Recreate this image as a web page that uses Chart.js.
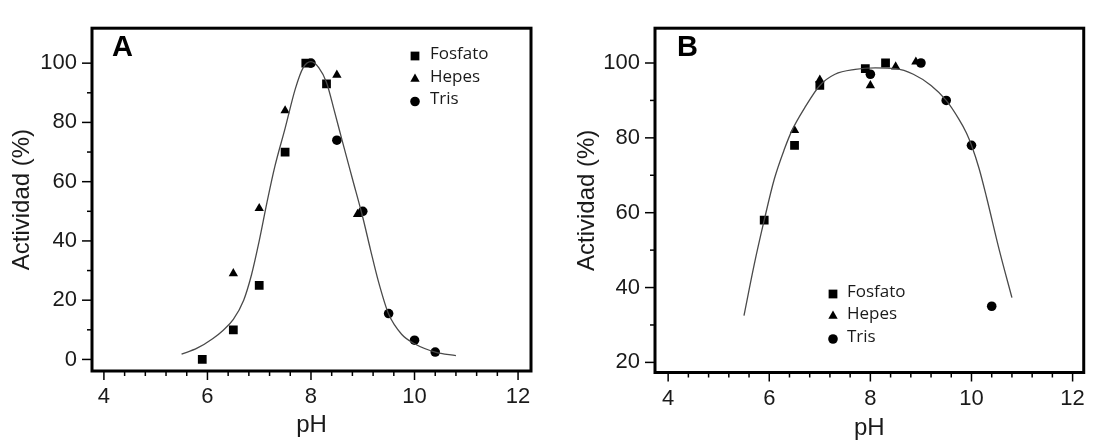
<!DOCTYPE html>
<html>
<head>
<meta charset="utf-8">
<script src="https://cdn.jsdelivr.net/npm/chart.js@4.4.1/dist/chart.umd.min.js"></script>
<style>
  body { margin: 0; background: #fff; }
  .panel { position: absolute; top: 0; width: 549px; height: 443px; }
</style>
</head>
<body>
<div class="panel" style="left:0"><canvas id="chartA" width="549" height="443"></canvas></div>
<div class="panel" style="left:549px"><canvas id="chartB" width="549" height="443"></canvas></div>
<script>
  // ---- panel A ----
  var fosfatoA_x = [5.9, 6.5, 7.0, 7.5, 7.9, 8.3];
  var fosfatoA_y = [0, 10, 25, 70, 100, 93];
  var hepesA_x = [6.5, 7.0, 7.5, 8.5, 8.9];
  var hepesA_y = [29, 51, 84, 96, 49];
  var trisA_x = [8.0, 8.5, 9.0, 9.5, 10.0, 10.4];
  var trisA_y = [100, 74, 50, 15.5, 6.5, 2.5];
  // fitted curve
  var curveA_x = [5.5, 5.8, 6.1, 6.3, 6.5, 6.7, 6.85, 7.0, 7.15, 7.3, 7.5, 7.7, 7.85, 8.0, 8.15, 8.3, 8.45, 8.6, 8.8, 9.0, 9.15, 9.3, 9.5, 9.75, 10.0, 10.4, 10.8];
  var curveA_y = [1.8, 3.8, 7, 9.8, 13.5, 20, 28.5, 40, 53, 65, 78, 91.5, 98.5, 100.5, 98.5, 93.5, 84, 74, 61, 48, 37, 26.5, 15.3, 8.5, 5.3, 2.5, 1.3];

  // ---- panel B ----
  var fosfatoB_x = [5.9, 6.5, 7.0, 7.9, 8.3];
  var fosfatoB_y = [58, 78, 94, 98.5, 100];
  var hepesB_x = [6.5, 7.0, 8.0, 8.5, 8.9];
  var hepesB_y = [82, 95.5, 94, 99, 100.3];
  var trisB_x = [8.0, 9.0, 9.5, 10.0, 10.4];
  var trisB_y = [97, 100, 90, 78, 35];
  var curveB_x = [5.5, 5.7, 5.9, 6.1, 6.3, 6.45, 6.7, 7.0, 7.3, 7.7, 8.1, 8.5, 8.85, 9.2, 9.5, 9.75, 9.9, 10.0, 10.15, 10.3, 10.55, 10.8];
  var curveB_y = [32.5, 46, 58, 69, 77, 82, 88, 94, 97, 98.3, 98.7, 98.5, 97, 94, 90, 85, 81.3, 78, 71.8, 64, 50, 37.3];

  // tick labels
  var xTicks = [4, 6, 8, 10, 12];
  var yTicksA = [0, 20, 40, 60, 80, 100];
  var yTicksB = [20, 40, 60, 80, 100];
  var seriesNames = ['Fosfato', 'Hepes', 'Tris'];

  function zip(xs, ys) {
    return xs.map(function (x, i) { return {x: x, y: ys[i]}; });
  }

  var ink = '#1a1a1a';
  var axisFont = {family: '"Liberation Sans", Arial, sans-serif', size: 22};
  var titleFont = {family: '"Liberation Sans", Arial, sans-serif', size: 24};

  function marker(ctx, style, r, x, y) {
    ctx.fillStyle = '#000';
    if (Chart.helpers && Chart.helpers.drawPoint) {
      Chart.helpers.drawPoint(ctx, {pointStyle: style, radius: r, rotation: 0, borderWidth: 0}, x, y);
      return;
    }
    ctx.beginPath();
    if (style === 'rect') {
      var h = r * Math.SQRT1_2;
      ctx.rect(x - h, y - h, 2 * h, 2 * h);
    } else if (style === 'triangle') {
      ctx.moveTo(x, y - r);
      ctx.lineTo(x + r * 0.866, y + r * 0.5);
      ctx.lineTo(x - r * 0.866, y + r * 0.5);
      ctx.closePath();
    } else {
      ctx.arc(x, y, r, 0, Math.PI * 2);
    }
    ctx.fill();
  }

  // box, tick marks, legend and panel letter
  var framePlugin = {
    id: 'frame',
    afterDraw: function (chart, args, o) {
      var ctx = chart.ctx, a = chart.chartArea;
      var xs = chart.scales.x, ys = chart.scales.y;
      ctx.save();
      ctx.strokeStyle = '#000';
      ctx.lineWidth = 1.5;
      var v, px;
      for (v = 4; v <= 12.001; v += 0.4) {
        px = xs.getPixelForValue(v);
        var major = Math.abs(v - Math.round(v)) < 0.01 && Math.round(v) % 2 === 0;
        ctx.beginPath();
        ctx.moveTo(px, a.bottom);
        ctx.lineTo(px, a.bottom + (major ? 9 : 5));
        ctx.stroke();
      }
      for (v = o.yFrom; v <= o.yTo; v += 10) {
        px = ys.getPixelForValue(v);
        ctx.beginPath();
        ctx.moveTo(a.left, px);
        ctx.lineTo(a.left - (v % 20 === 0 ? 10 : 5), px);
        ctx.stroke();
      }
      ctx.lineWidth = 3;
      ctx.strokeRect(a.left, a.top, a.right - a.left, a.bottom - a.top);

      // legend
      ctx.font = '17px "Open Sans", sans-serif';
      ctx.textBaseline = 'middle';
      ctx.textAlign = 'left';
      chart.data.datasets.slice(1).forEach(function (ds, i) {
        var y = o.legendRows[i];
        marker(ctx, ds.pointStyle, ds.pointRadius, o.legendX, y);
        ctx.fillStyle = ink;
        ctx.fillText(ds.label, o.legendTextX, y - 2);
      });

      ctx.fillStyle = '#000';
      ctx.font = 'bold 29px "Liberation Sans", Arial, sans-serif';
      ctx.textBaseline = 'alphabetic';
      ctx.fillText(o.letter, o.letterX, o.letterY);
      ctx.restore();
    }
  };

  function makeChart(id, c) {
    return new Chart(document.getElementById(id), {
      type: 'scatter',
      data: {
        datasets: [
          {label: 'ajuste', type: 'line', data: zip(c.curveX, c.curveY), borderColor: '#4a4a4a', borderWidth: 1.3,
           pointRadius: 0, fill: false, cubicInterpolationMode: 'monotone'},
          {label: seriesNames[0], data: zip(c.fx, c.fy), pointStyle: 'rect', pointRadius: 6.2, backgroundColor: '#000', borderWidth: 0},
          {label: seriesNames[1], data: zip(c.hx, c.hy), pointStyle: 'triangle', pointRadius: 5.4, backgroundColor: '#000', borderWidth: 0},
          {label: seriesNames[2], data: zip(c.tx, c.ty), pointStyle: 'circle', pointRadius: 4.8, backgroundColor: '#000', borderWidth: 0}
        ]
      },
      options: {
        responsive: false,
        animation: false,
        layout: {padding: c.pad},
        plugins: {
          legend: {display: false},
          tooltip: {enabled: false},
          frame: c.frame
        },
        scales: {
          x: {
            type: 'linear', min: c.xMin, max: c.xMax,
            afterBuildTicks: function (s) { s.ticks = xTicks.map(function (v) { return {value: v}; }); },
            afterFit: function (s) { s.height = c.xH; },
            grid: {display: false, drawTicks: false},
            border: {display: false},
            ticks: {padding: 13, font: axisFont, color: ink, maxRotation: 0, autoSkip: false},
            title: {display: true, text: 'pH', font: titleFont, color: ink, padding: {top: 0, bottom: c.xTitlePad}}
          },
          y: {
            type: 'linear', min: c.yMin, max: c.yMax,
            afterBuildTicks: function (s) { s.ticks = c.yTicks.map(function (v) { return {value: v}; }); },
            afterFit: function (s) { s.width = c.yW; },
            grid: {display: false, drawTicks: false},
            border: {display: false},
            ticks: {padding: 15, font: axisFont, color: ink, autoSkip: false},
            title: {display: true, text: 'Actividad (%)', font: titleFont, color: ink, padding: {top: c.yTitlePad, bottom: 0}}
          }
        }
      },
      plugins: [framePlugin]
    });
  }

  var chartA = makeChart('chartA', {
    curveX: curveA_x, curveY: curveA_y,
    fx: fosfatoA_x, fy: fosfatoA_y, hx: hepesA_x, hy: hepesA_y, tx: trisA_x, ty: trisA_y,
    xMin: 3.77, xMax: 12.25, yMin: -3.9, yMax: 111.8, yTicks: yTicksA,
    pad: {left: 0, top: 10, right: 18, bottom: 0}, xH: 72, yW: 92,
    xTitlePad: 3, yTitlePad: 8,
    frame: {yFrom: 0, yTo: 100, legendX: 415, legendTextX: 430, legendRows: [56, 79, 101.5],
            letter: 'A', letterX: 112, letterY: 56}
  });

  var chartB = makeChart('chartB', {
    curveX: curveB_x, curveY: curveB_y,
    fx: fosfatoB_x, fy: fosfatoB_y, hx: hepesB_x, hy: hepesB_y, tx: trisB_x, ty: trisB_y,
    xMin: 3.74, xMax: 12.22, yMin: 17.3, yMax: 109.3, yTicks: yTicksB,
    pad: {left: 0, top: 13, right: 4, bottom: 0}, xH: 70.5, yW: 106,
    xTitlePad: 0, yTitlePad: 24,
    frame: {yFrom: 20, yTo: 100, legendX: 284, legendTextX: 298, legendRows: [294, 316, 339],
            letter: 'B', letterX: 128, letterY: 56}
  });
</script>
</body>
</html>
